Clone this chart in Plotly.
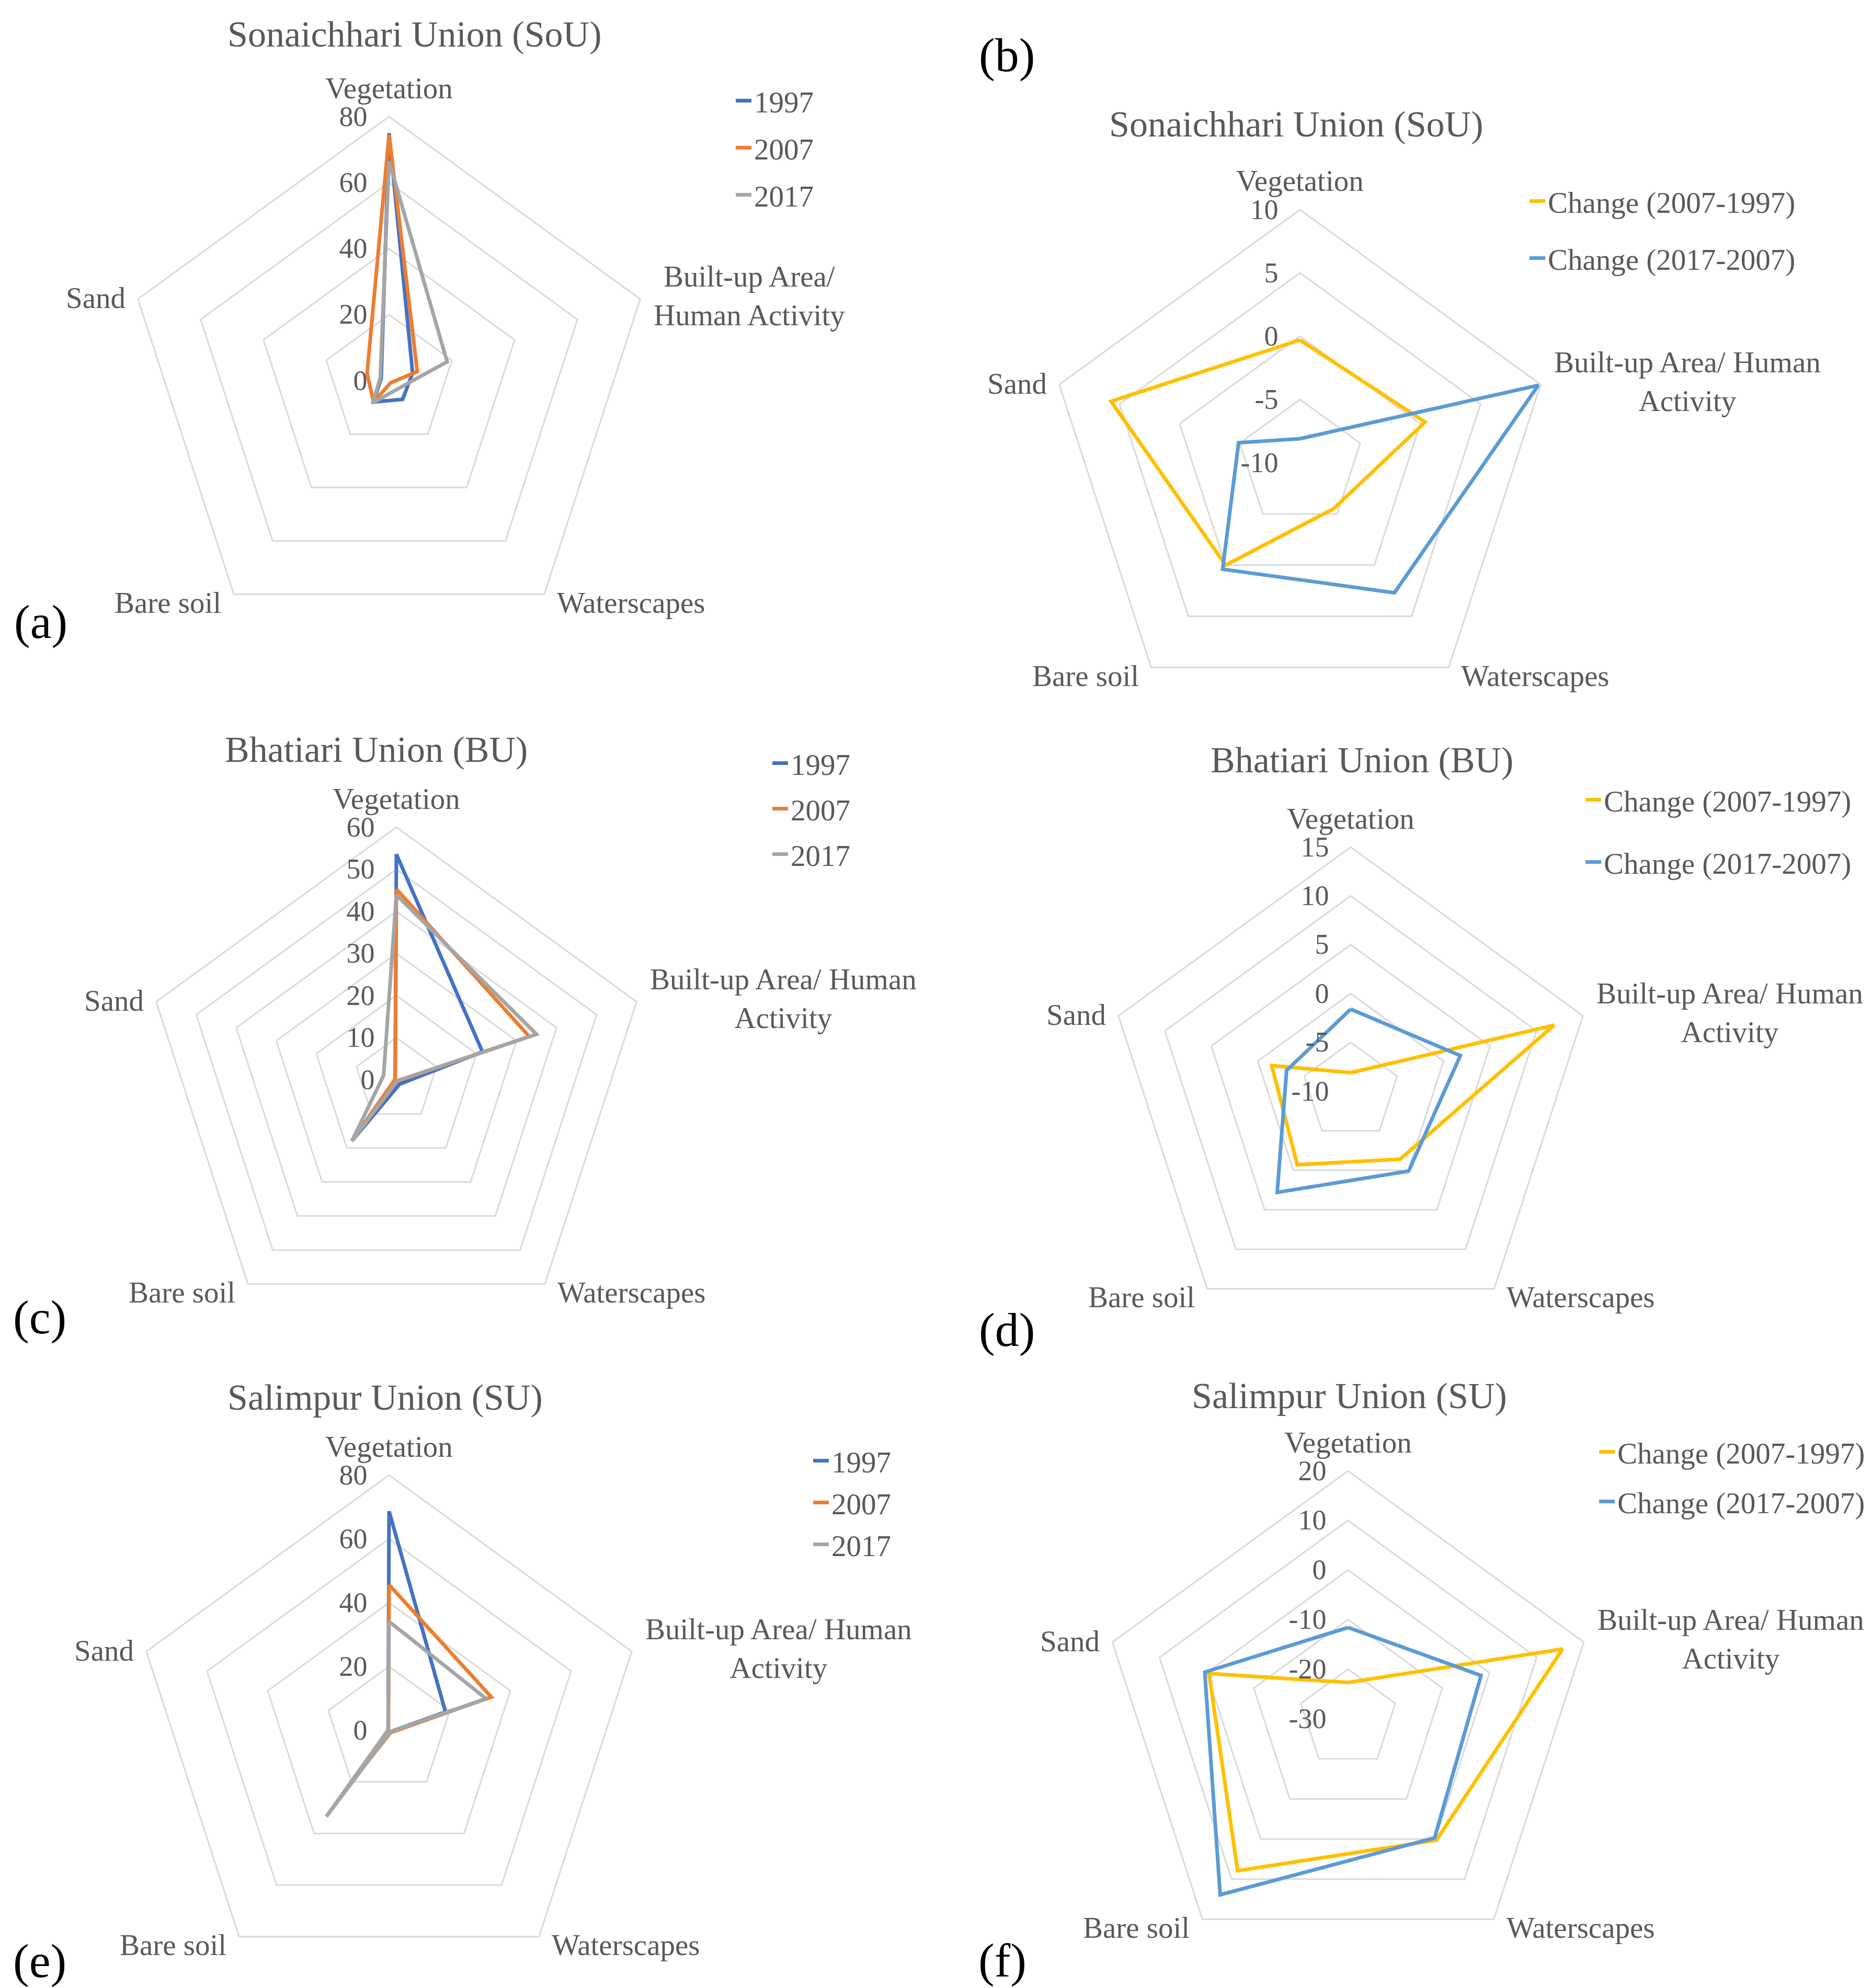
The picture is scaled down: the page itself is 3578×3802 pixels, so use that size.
import math
import plotly.graph_objects as go

W, H = 3578, 3802

categories = ["Vegetation", "Built-up Area/ Human Activity", "Waterscapes", "Bare soil", "Sand"]
labels_a = ["Vegetation", "Built-up Area/<br>Human Activity", "Waterscapes", "Bare soil", "Sand"]
labels_other = ["Vegetation", "Built-up Area/ Human<br>Activity", "Waterscapes", "Bare soil", "Sand"]

# (a) Sonaichhari Union – land cover (%)
sou_1997 = [75.0, 7.5, 7.0, 8.0, 2.5]
sou_2007 = [74.5, 9.0, 0.8, 8.0, 7.0]
sou_2017 = [66.5, 18.5, 3.5, 8.3, 2.8]
# (b) Sonaichhari Union – change
sou_chg_1 = [-0.3, 0.4, -5.5, 0.0, 5.7]
sou_chg_2 = [-8.1, 9.8, 2.7, 0.4, -4.9]
# (c) Bhatiari Union
bu_1997 = [53.6, 21.5, 1.3, 18.0, 0.3]
bu_2007 = [45.3, 33.2, 0.4, 18.0, 0.3]
bu_2017 = [43.9, 35.0, 0.3, 18.0, 3.2]
# (d) Bhatiari Union – change
bu_chg_1 = [-8.1, 11.9, -1.4, -0.7, -1.5]
bu_chg_2 = [-1.6, 1.8, 0.1, 2.8, -3.1]
# (e) Salimpur Union
su_1997 = [68.7, 18.6, 0.6, 11.7, 0.3]
su_2007 = [45.6, 33.7, 0.9, 19.6, 0.2]
su_2017 = [34.1, 32.0, 0.6, 33.5, 0.3]
# (f) Salimpur Union – change
su_chg_1 = [-22.7, 15.5, 0.3, 7.9, -0.5]
su_chg_2 = [-11.6, -1.8, -0.3, 13.9, 0.4]

year_names = ["1997", "2007", "2017"]
change_names = ["Change (2007-1997)", "Change (2017-2007)"]

ticks_a = [0, 20, 40, 60, 80]
ticks_b = [-10, -5, 0, 5, 10]
ticks_c = [0, 10, 20, 30, 40, 50, 60]
ticks_d = [-10, -5, 0, 5, 10, 15]
ticks_e = [0, 20, 40, 60, 80]
ticks_f = [-30, -20, -10, 0, 10, 20]

titles = ["Sonaichhari Union (SoU)", "Sonaichhari Union (SoU)", "Bhatiari Union (BU)",
          "Bhatiari Union (BU)", "Salimpur Union (SU)", "Salimpur Union (SU)"]
letters = ["(a)", "(b)", "(c)", "(d)", "(e)", "(f)"]

YEAR_COLORS = ["#4472C4", "#ED7D31", "#A5A5A5"]
CHANGE_COLORS = ["#FFC000", "#5B9BD5"]
GRID = "#D9D9D9"
TXT = "#595959"
FONT = "Liberation Serif"

# layout: centre (px), radius (px), legend text-left x, first legend item centre y, item spacing
panels = [
    dict(c=(736, 720), R=505, ticks=ticks_a, labels=labels_a, series=[sou_1997, sou_2007, sou_2017],
         names=year_names, colors=YEAR_COLORS, title=(784, 58), letter=(70, 1181), leg=(1439, 183, 87)),
    dict(c=(2478, 877), R=484, ticks=ticks_b, labels=labels_other, series=[sou_chg_1, sou_chg_2],
         names=change_names, colors=CHANGE_COLORS, title=(2470, 230), letter=(1917, 97), leg=(2957, 375, 106)),
    dict(c=(750, 2057), R=483, ticks=ticks_c, labels=labels_other, series=[bu_1997, bu_2007, bu_2017],
         names=year_names, colors=YEAR_COLORS, title=(711, 1426), letter=(68, 2511), leg=(1509, 1450, 84)),
    dict(c=(2575, 2079), R=467, ticks=ticks_d, labels=labels_other, series=[bu_chg_1, bu_chg_2],
         names=change_names, colors=CHANGE_COLORS, title=(2596, 1446), letter=(1917, 2535), leg=(3064, 1520, 116)),
    dict(c=(736, 3301), R=488, ticks=ticks_e, labels=labels_other, series=[su_1997, su_2007, su_2017],
         names=year_names, colors=YEAR_COLORS, title=(728, 2664), letter=(68, 3742), leg=(1587, 2784, 77)),
    dict(c=(2570, 3279), R=474, ticks=ticks_f, labels=labels_other, series=[su_chg_1, su_chg_2],
         names=change_names, colors=CHANGE_COLORS, title=(2572, 2661), letter=(1909, 3741), leg=(3090, 2767, 92)),
]

# offsets of category labels from the outer vertices (px): dx, dy, xanchor
LABEL_OFFS = [(0, -55, "center"), (24, -6, "left"), (22, 16, "left"), (-22, 16, "right"), (-22, -2, "right")]

fig = go.Figure()
layout = dict(width=W, height=H, margin=dict(l=0, r=0, t=0, b=0),
              paper_bgcolor="white", plot_bgcolor="white", annotations=[])

LEG_FONT = 57
for i, p in enumerate(panels):
    pid = "polar" if i == 0 else f"polar{i+1}"
    lid = "legend" if i == 0 else f"legend{i+1}"
    for j, (vals, nm, col) in enumerate(zip(p["series"], p["names"], p["colors"])):
        fig.add_trace(go.Scatterpolar(
            r=vals + [vals[0]], theta=categories + [categories[0]], mode="lines",
            line=dict(color=col, width=7), name=nm, subplot=pid, legend=lid,
            legendgroup=f"g{i}_{j}", showlegend=True))
    cx, cy = p["c"]
    R = p["R"]
    t = p["ticks"]
    layout[pid] = dict(
        domain=dict(x=[(cx - R) / W, (cx + R) / W], y=[1 - (cy + R) / H, 1 - (cy - R) / H]),
        gridshape="linear", bgcolor="white",
        radialaxis=dict(range=[t[0], t[-1]], tickvals=t, ticktext=[str(v) for v in t],
                        angle=90, tickangle=90, side="counterclockwise", showline=False,
                        ticks="outside", ticklen=22, tickcolor="rgba(0,0,0,0)",
                        gridcolor=GRID, gridwidth=3,
                        tickfont=dict(family=FONT, size=54, color=TXT)),
        angularaxis=dict(direction="clockwise", rotation=90, showgrid=False,
                         showline=True, linecolor=GRID, linewidth=3, ticks="",
                         showticklabels=False),
    )
    # category labels placed next to the outer vertices
    for k, lab in enumerate(p["labels"]):
        a = math.radians(72 * k)
        vx, vy = cx + R * math.sin(a), cy - R * math.cos(a)
        dx, dy, xa = LABEL_OFFS[k]
        layout["annotations"].append(dict(
            text=lab, x=(vx + dx) / W, y=1 - (vy + dy) / H, xref="paper", yref="paper",
            showarrow=False, xanchor=xa, yanchor="middle", align="center",
            font=dict(family=FONT, size=57, color=TXT)))
    tx, ty, gap = p["leg"]
    item_h = LEG_FONT * 1.3
    layout[lid] = dict(x=(tx - 45) / W, y=1 - (ty - item_h / 2 - 5) / H, xanchor="left", yanchor="top",
                       font=dict(family=FONT, size=LEG_FONT, color=TXT), bgcolor="rgba(0,0,0,0)",
                       tracegroupgap=max(gap - item_h, 0), traceorder="grouped")
    layout["annotations"].append(dict(text=titles[i], x=p["title"][0] / W,
                                      y=1 - p["title"][1] / H, xref="paper", yref="paper",
                                      showarrow=False, xanchor="center", yanchor="middle",
                                      font=dict(family=FONT, size=70, color=TXT)))
    layout["annotations"].append(dict(text=letters[i], x=p["letter"][0] / W, y=1 - p["letter"][1] / H,
                                      xref="paper", yref="paper", showarrow=False,
                                      xanchor="center", yanchor="middle",
                                      font=dict(family=FONT, size=92, color="black")))

fig.update_layout(**layout)
fig.write_html("out.html")
